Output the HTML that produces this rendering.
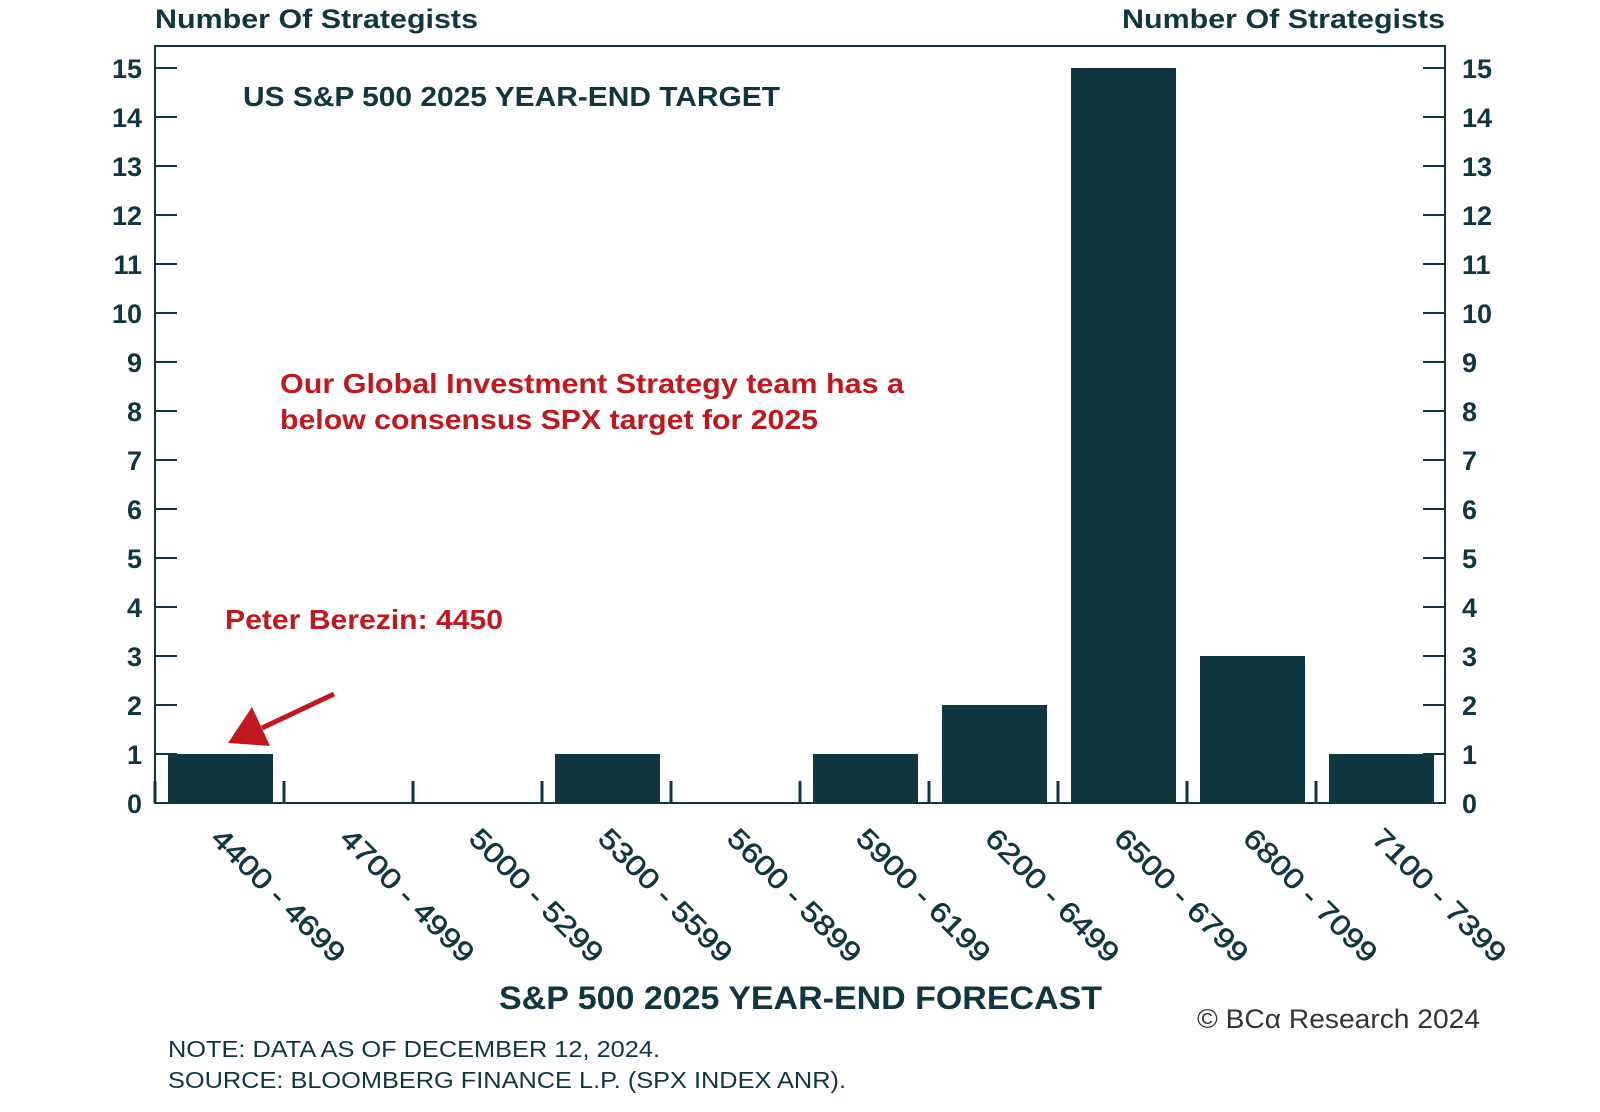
<!DOCTYPE html>
<html><head><meta charset="utf-8"><style>
body{margin:0;background:#fff;width:1600px;height:1107px;overflow:hidden;font-family:"Liberation Sans",sans-serif;}
svg text{font-family:"Liberation Sans",sans-serif;}
</style></head><body>
<svg width="1600" height="1107">
<g id="g"></g>
</svg>
<script>
const categories=["4400 - 4699","4700 - 4999","5000 - 5299","5300 - 5599","5600 - 5899","5900 - 6199","6200 - 6499","6500 - 6799","6800 - 7099","7100 - 7399"];
const counts=[1,0,0,1,0,1,2,15,3,1];
const yTicks=[0,1,2,3,4,5,6,7,8,9,10,11,12,13,14,15];
const L=155,R=1445,B=803,T=46,unit=49;
const C="#10363f";
const y=v=>B-v*unit;
const cw=(R-L)/categories.length;
const x=i=>L+i*cw;
const g=document.getElementById('g');
const NS="http://www.w3.org/2000/svg";
function mk(t,a,txt){const e=document.createElementNS(NS,t);for(const k in a)e.setAttribute(k,a[k]);if(txt!==undefined)e.textContent=txt;g.appendChild(e);return e;}
let e;
e=mk('rect',{x:L,y:T,width:R-L,height:B-T,fill:'none',stroke:C,'stroke-width':2});

yTicks.forEach(v=>{
 e=mk('line',{x1:L,x2:L+22,y1:y(v),y2:y(v),stroke:C,'stroke-width':2});
 
 e=mk('line',{x1:R-22,x2:R,y1:y(v),y2:y(v),stroke:C,'stroke-width':2});
 
 e=mk('text',{x:142,y:y(v)+10,'text-anchor':'end','font-size':27,'font-weight':'bold',fill:C},v);
 
 e=mk('text',{x:1462,y:y(v)+10,'font-size':27,'font-weight':'bold',fill:C},v);
 
});
categories.forEach((c,i)=>{
 e=mk('rect',{x:x(i)+13,y:y(counts[i]),width:105,height:counts[i]*unit,fill:C});
 
 e=mk('line',{x1:x(i),x2:x(i),y1:B-22,y2:B,stroke:C,'stroke-width':3});
 
 const sx=x(i)+cw/2-10, sy=B+37;
 e=mk('text',{x:sx,y:sy,'font-size':28,fill:C,stroke:C,'stroke-width':0.6,textLength:176,lengthAdjust:'spacingAndGlyphs',transform:`rotate(45 ${sx} ${sy})`},c);
 
});
function T2(a,txt,name){const el=mk('text',Object.assign({lengthAdjust:'spacingAndGlyphs'},a),txt);return el;}
T2({x:155,y:28,'font-size':27,'font-weight':'bold',fill:C,textLength:323},'Number Of Strategists','left-axis-title');
T2({x:1122,y:28,'font-size':27,'font-weight':'bold',fill:C,textLength:323},'Number Of Strategists','right-axis-title');
T2({x:243,y:106,'font-size':28,'font-weight':'bold',fill:C,textLength:537},'US S&P 500 2025 YEAR-END TARGET','chart-title');
T2({x:280,y:393,'font-size':28,'font-weight':'bold',fill:'#c0181f',textLength:624},'Our Global Investment Strategy team has a','annotation-line1');
T2({x:280,y:429,'font-size':28,'font-weight':'bold',fill:'#c0181f',textLength:538},'below consensus SPX target for 2025','annotation-line2');
T2({x:225,y:629,'font-size':28,'font-weight':'bold',fill:'#c0181f',textLength:278},'Peter Berezin: 4450','peter-label');
e=mk('line',{x1:334,y1:694,x2:262,y2:728,stroke:'#c0181f','stroke-width':5});

e=mk('polygon',{points:'228,743 252,707 270,746',fill:'#c0181f'});

T2({x:499,y:1009,'font-size':32,'font-weight':'bold',fill:C,textLength:603},'S&P 500 2025 YEAR-END FORECAST','x-axis-title');
T2({x:1197,y:1028,'font-size':27,fill:'#333','font-family':'Liberation Serif',textLength:283},'© BCα Research 2024','copyright');
T2({x:168,y:1057,'font-size':23,fill:C,textLength:492},'NOTE: DATA AS OF DECEMBER 12, 2024.','note');
T2({x:168,y:1088,'font-size':23,fill:C,textLength:678},'SOURCE: BLOOMBERG FINANCE L.P. (SPX INDEX ANR).','source');
</script>
</body></html>
